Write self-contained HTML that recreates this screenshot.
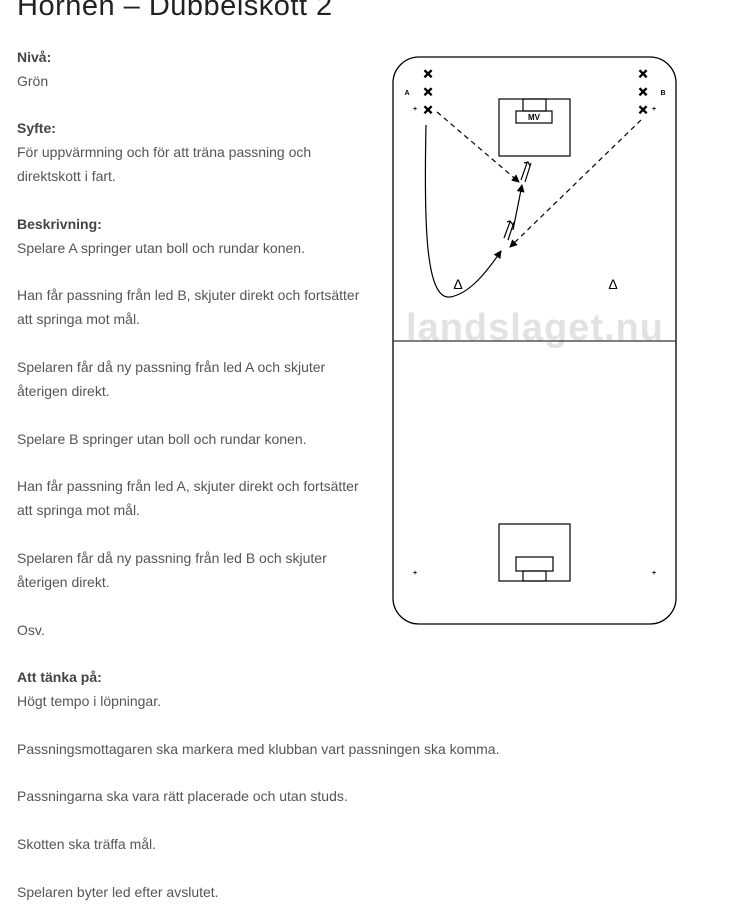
<!DOCTYPE html>
<html><head><meta charset="utf-8"><style>
body{margin:0;width:741px;height:909px;background:#fff;position:relative;overflow:hidden;font-family:"Liberation Sans",sans-serif;}
.t{position:absolute;left:17px;font-size:14px;color:#555;white-space:nowrap;line-height:16px}
.b{font-weight:bold;color:#444}
h1{position:absolute;left:17px;top:-10px;margin:0;font-weight:normal;font-size:29px;color:#222;letter-spacing:0.5px}
svg{position:absolute;left:0;top:0}
</style></head><body>
<h1>Hornen – Dubbelskott 2</h1>
<div class="t b" style="top:49px">Nivå:</div>
<div class="t" style="top:73px">Grön</div>
<div class="t b" style="top:120px">Syfte:</div>
<div class="t" style="top:144px">För uppvärmning och för att träna passning och</div>
<div class="t" style="top:168px">direktskott i fart.</div>
<div class="t b" style="top:216px">Beskrivning:</div>
<div class="t" style="top:240px">Spelare A springer utan boll och rundar konen.</div>
<div class="t" style="top:287px">Han får passning från led B, skjuter direkt och fortsätter</div>
<div class="t" style="top:311px">att springa mot mål.</div>
<div class="t" style="top:359px">Spelaren får då ny passning från led A och skjuter</div>
<div class="t" style="top:383px">återigen direkt.</div>
<div class="t" style="top:431px">Spelare B springer utan boll och rundar konen.</div>
<div class="t" style="top:478px">Han får passning från led A, skjuter direkt och fortsätter</div>
<div class="t" style="top:502px">att springa mot mål.</div>
<div class="t" style="top:550px">Spelaren får då ny passning från led B och skjuter</div>
<div class="t" style="top:574px">återigen direkt.</div>
<div class="t" style="top:622px">Osv.</div>
<div class="t b" style="top:669px">Att tänka på:</div>
<div class="t" style="top:693px">Högt tempo i löpningar.</div>
<div class="t" style="top:741px">Passningsmottagaren ska markera med klubban vart passningen ska komma.</div>
<div class="t" style="top:788px">Passningarna ska vara rätt placerade och utan studs.</div>
<div class="t" style="top:836px">Skotten ska träffa mål.</div>
<div class="t" style="top:884px">Spelaren byter led efter avslutet.</div>
<svg width="741" height="909" viewBox="0 0 741 909">
<defs><marker id="ar" markerWidth="8" markerHeight="8" refX="7" refY="4" orient="auto" markerUnits="userSpaceOnUse"><path d="M0,0 L8,4 L0,8 Z" fill="#000"/></marker></defs>
<text x="535" y="340" font-family="Liberation Sans,sans-serif" font-weight="bold" font-size="38" fill="#e2e2e2" text-anchor="middle" letter-spacing="1">landslaget.nu</text>
<rect x="393" y="57" width="283" height="567" rx="26" fill="none" stroke="#000" stroke-width="1.3"/>
<line x1="393" y1="341" x2="676" y2="341" stroke="#333" stroke-width="1.3"/>
<g fill="none" stroke="#000" stroke-width="1.2">
<rect x="499" y="99" width="71" height="57"/><rect x="516" y="111" width="36" height="12"/><rect x="523" y="99" width="23" height="12"/>
<rect x="499" y="524" width="71" height="57"/><rect x="516" y="557" width="37" height="14"/><rect x="523" y="571" width="23" height="10"/>
</g>
<text x="534" y="120" font-size="8" font-weight="bold" text-anchor="middle" font-family="Liberation Sans,sans-serif">MV</text>
<g font-family="Liberation Sans,sans-serif" font-weight="bold" font-size="16" text-anchor="middle" stroke="#000" stroke-width="0.6">
<text x="428" y="79">×</text><text x="428" y="97">×</text><text x="428" y="115">×</text>
<text x="643" y="79">×</text><text x="643" y="97">×</text><text x="643" y="115">×</text>
</g>
<g font-family="Liberation Sans,sans-serif" font-size="7" font-weight="bold" text-anchor="middle">
<text x="407" y="95">A</text><text x="663" y="95">B</text>
<text x="415" y="111">+</text><text x="654" y="111">+</text>
<text x="415" y="575">+</text><text x="654" y="575">+</text>
</g>
<g font-family="Liberation Sans,sans-serif" font-size="14" text-anchor="middle"><text x="458" y="289">Δ</text><text x="613" y="289">Δ</text></g>
<g fill="none" stroke="#000" stroke-width="1.2">
<line x1="437" y1="112" x2="519" y2="182" stroke-dasharray="5,4" marker-end="url(#ar)"/>
<line x1="641" y1="120" x2="510" y2="247" stroke-dasharray="5,4" marker-end="url(#ar)"/>
<path d="M426 125 C424 220 425 300 450 297 C470 294 488 270 501 251" marker-end="url(#ar)"/>
<line x1="513" y1="230" x2="522" y2="185" marker-end="url(#ar)"/>
<path d="M504 238 L510 222 M508 240 L514 222 M507 222 L510 221 L513 225"/>
<path d="M521 180 L527 163 M525 182 L531 163 M524 163 L528 162 L530 166"/>
</g>
</svg>
</body></html>
